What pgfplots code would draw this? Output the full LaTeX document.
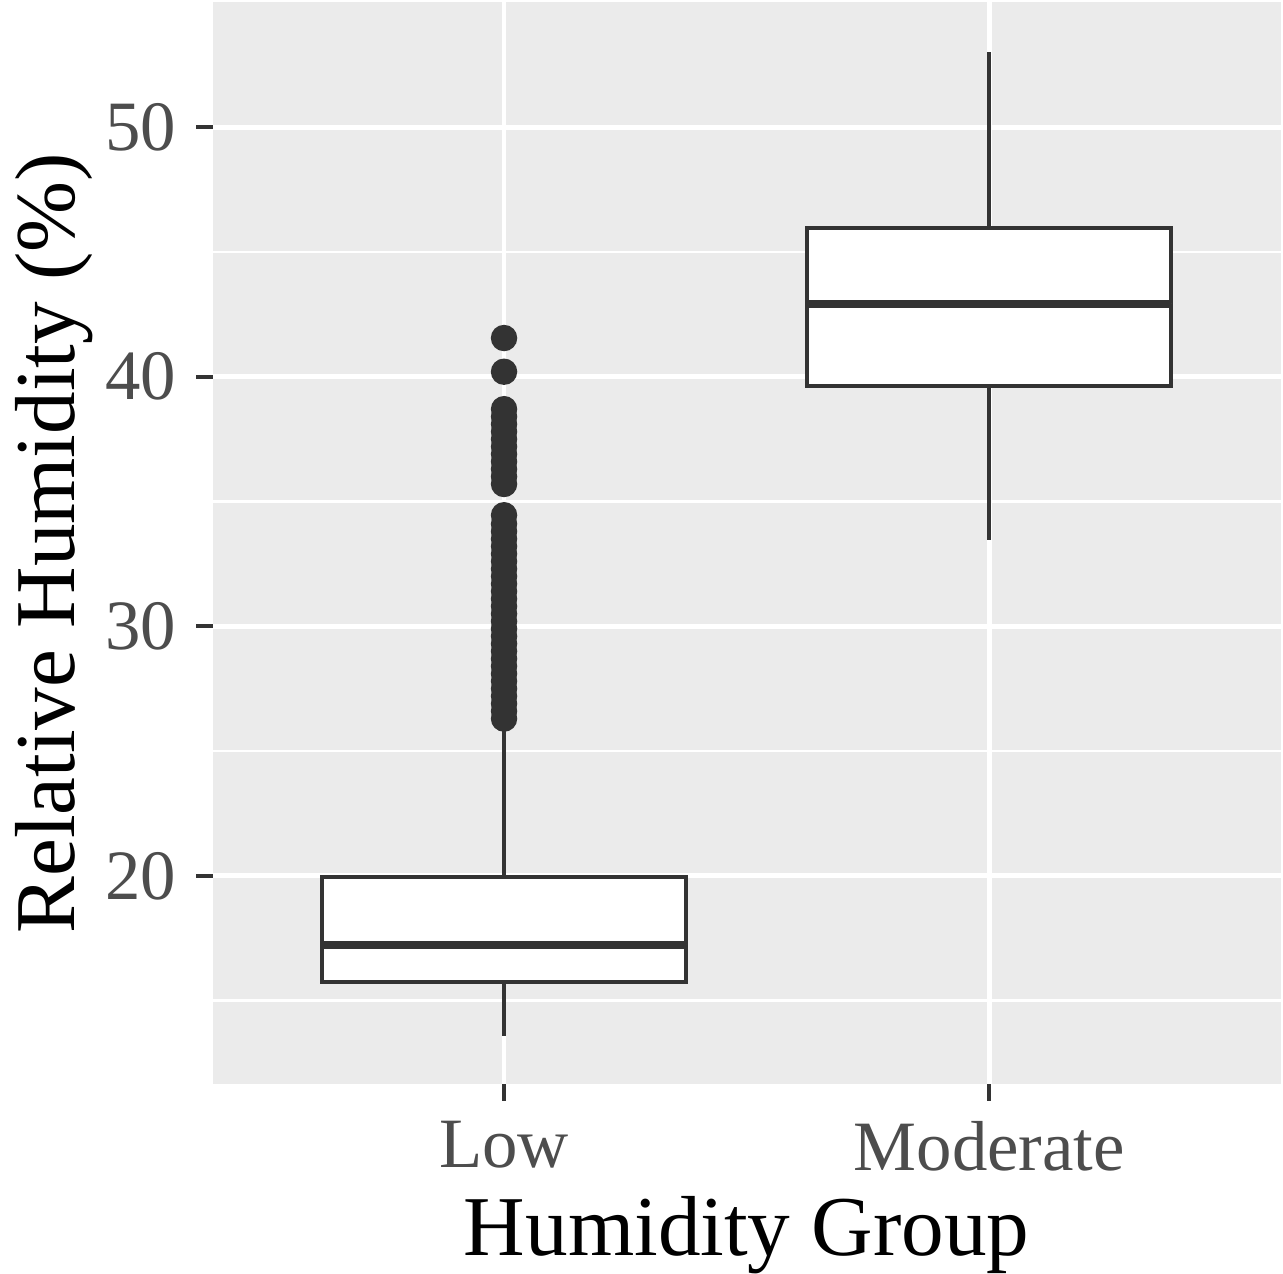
\documentclass[border=0pt]{standalone}
\usepackage{fontspec}
\setmainfont{Liberation Serif}
\usepackage{pgfplots}
\pgfplotsset{compat=1.18}
\usepgfplotslibrary{statistics}

\definecolor{panel}{RGB}{235,235,235}
\definecolor{ink}{RGB}{51,51,51}
\definecolor{ticktext}{RGB}{77,77,77}

\begin{document}
\begin{tikzpicture}
\begin{axis}[
    scale only axis,
    width=267pt,
    height=270.5pt,
    xmin=0.4, xmax=2.6,
    ymin=11.65, ymax=55.0,
    axis background/.style={fill=panel},
    axis line style={draw=none},
    xtick={1,2},
    xticklabels={Low,Moderate},
    ytick={20,30,40,50},
    minor ytick={15,25,35,45},
    minor tick length=0pt,
    xtick pos=bottom, ytick pos=left,
    tick align=outside,
    major tick length=4.2pt,
    major tick style={draw=ink, line width=1pt},
    grid=both,
    major grid style={white, line width=1.2pt},
    minor grid style={white, line width=0.6pt},
    /pgf/number format/assume math mode=true,
    tick label style={font=\fontsize{17.7}{20}\selectfont, text=ticktext},
    xticklabel style={yshift=-1.5pt},
    yticklabel style={xshift=-1.5pt},
    label style={font=\fontsize{21.3}{25}\selectfont, text=black},
    xlabel style={inner sep=0pt, yshift=-2.75pt},
    ylabel style={at={(axis description cs:-0.149,0.5)}, anchor=center,
        inner sep=0pt, inner ysep=3.75pt},
    xlabel={Humidity Group},
    ylabel={Relative Humidity (\%)},
    boxplot/draw direction=y,
    boxplot/every median/.style={line width=2pt},
    boxplot/every whisker/.style={line width=1pt},
]

% Low group
\addplot[boxplot prepared={lower whisker=13.6, lower quartile=15.75, median=17.23,
    upper quartile=19.96, upper whisker=26.1, draw position=1, box extend=0.75,
    whisker extend=0}, draw=ink, fill=white, line width=1pt, solid]
    coordinates {};

% Moderate group
\addplot[boxplot prepared={lower whisker=33.47, lower quartile=39.64, median=42.93,
    upper quartile=45.97, upper whisker=53.0, draw position=2, box extend=0.75,
    whisker extend=0}, draw=ink, fill=white, line width=1pt, solid]
    coordinates {};

% outliers of the Low group
\addplot[only marks, mark=*, mark size=3.1pt, draw=ink, fill=ink] coordinates {
(1,26.3) (1,26.6) (1,26.9) (1,27.2) (1,27.5) (1,27.8) (1,28.1) (1,28.4)
(1,28.7) (1,29.0) (1,29.3) (1,29.6) (1,29.9) (1,30.2) (1,30.5) (1,30.8)
(1,31.1) (1,31.4) (1,31.7) (1,32.0) (1,32.3) (1,32.6) (1,32.9) (1,33.2)
(1,33.5) (1,33.8) (1,34.1) (1,34.45)
(1,35.7) (1,36.0) (1,36.3) (1,36.6) (1,36.9) (1,37.2) (1,37.5) (1,37.8)
(1,38.1) (1,38.4) (1,38.7)
(1,40.2) (1,41.55)
};

\end{axis}
\end{tikzpicture}
\end{document}
